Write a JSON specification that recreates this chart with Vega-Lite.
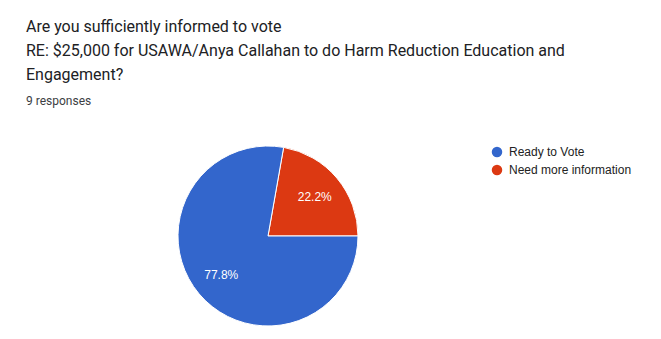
{
  "$schema": "https://vega.github.io/schema/vega-lite/v6.json",
  "autosize": {"type": "none"},
  "width": 180,
  "height": 180,
  "padding": {"left": 178, "top": 146, "right": 303, "bottom": 13},
  "background": "#ffffff",
  "title": {
    "text": ["Are you sufficiently informed to vote", "RE: $25,000 for USAWA/Anya Callahan to do Harm Reduction Education and", "Engagement?"],
    "subtitle": "9 responses",
    "anchor": "start",
    "frame": "group",
    "dx": -152,
    "offset": 37,
    "font": "Roboto",
    "fontSize": 16,
    "fontWeight": "normal",
    "color": "#202124",
    "lineHeight": 24,
    "subtitleFont": "Roboto",
    "subtitleFontSize": 12,
    "subtitleColor": "#3c4043",
    "subtitlePadding": 13
  },
  "data": {
    "values": [
      {"answer": "Need more information", "count": 2, "order": 1, "label": "22.2%"},
      {"answer": "Ready to Vote", "count": 7, "order": 2, "label": "77.8%"}
    ]
  },
  "encoding": {
    "theta": {"field": "count", "type": "quantitative", "stack": true, "scale": {"range": [0.1745, 6.4577]}},
    "order": {"field": "order", "type": "quantitative"}
  },
  "layer": [
    {
      "mark": {"type": "arc", "radius": 90, "stroke": "#ffffff", "strokeWidth": 1},
      "encoding": {
        "color": {
          "field": "answer",
          "type": "nominal",
          "scale": {"domain": ["Ready to Vote", "Need more information"], "range": ["#3366cc", "#dc3912"]},
          "legend": {
            "title": null,
            "orient": "none",
            "legendX": 313,
            "legendY": 0,
            "symbolType": "circle",
            "symbolSize": 110,
            "symbolStrokeWidth": 0,
            "labelFont": "Liberation Sans",
            "labelFontSize": 12,
            "labelColor": "#222222",
            "labelOffset": 6,
            "rowPadding": 6,
            "padding": 0
          }
        }
      }
    },
    {
      "mark": {"type": "text", "radius": 61, "font": "Liberation Sans", "fontSize": 12, "color": "#ffffff"},
      "encoding": {
        "text": {"field": "label", "type": "nominal"}
      }
    }
  ]
}
